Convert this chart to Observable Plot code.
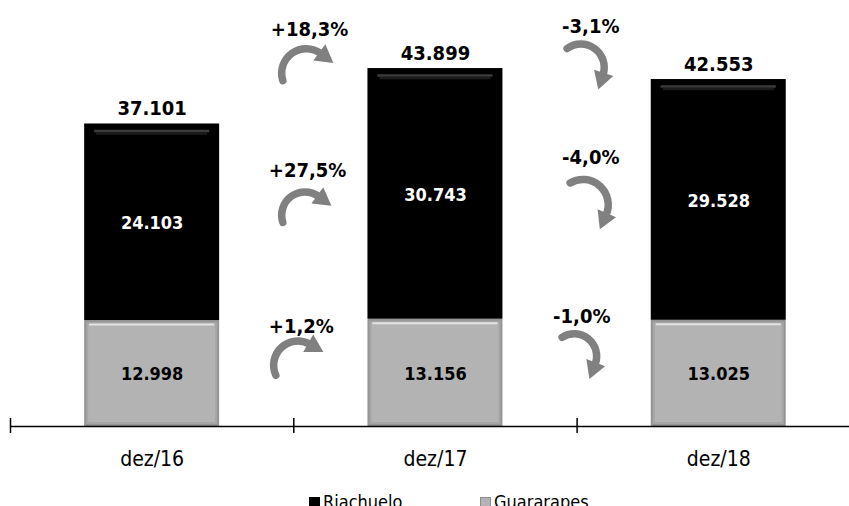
<!DOCTYPE html>
<html><head><meta charset="utf-8">
<script src="https://cdn.jsdelivr.net/npm/d3@7"></script>
<script src="https://cdn.jsdelivr.net/npm/@observablehq/plot@0.6"></script>
<style>
body{margin:0;background:#fff;overflow:hidden;width:849px;height:506px}
#chart{position:relative;width:849px;height:506px}
.legend{position:absolute;top:491px;left:0;width:849px;height:30px;font-family:"DejaVu Sans Condensed","DejaVu Sans",sans-serif;font-size:18px;line-height:21px;color:#000}
.item{position:absolute;top:0;white-space:nowrap}
.sw{display:inline-block;width:11px;height:11px;margin-right:3px;vertical-align:0px;box-sizing:border-box}
</style></head><body><div id="chart"></div>
<script>
// ---- data ----
const categories = ["dez/16", "dez/17", "dez/18"];
const riachuelo = [24103, 30743, 29528];
const guararapes = [12998, 13156, 13025];
const totals = [37101, 43899, 42553];
const changeTotal = ["+18,3%", "-3,1%"];
const changeRiachuelo = ["+27,5%", "-4,0%"];
const changeGuararapes = ["+1,2%", "-1,0%"];
const seriesNames = ["Riachuelo", "Guararapes"];
const seriesColors = ["#000000", "#b3b3b3"];

// ---- layout ----
const W = 849, H = 480, mL = 10, mR = 0, mT = 2, mB = 54;
const step = 283.3;                      // px per category
const xMax = -0.5 + (W - mL - mR) / step;
const yMax = 52000;
const k = (H - mT - mB) / yMax;          // px per unit
const hw = 67.5 / step;                  // half bar width in x units
const BEND = 72;
const fmt = v => d3.format(",")(v).replace(/,/g, ".");
const COND = "DejaVu Sans Condensed, DejaVu Sans, sans-serif";

// stacked segments
const segs = [];
categories.forEach((c, i) => {
  segs.push({i, series: "Guararapes", y1: 0, y2: guararapes[i], value: guararapes[i]});
  segs.push({i, series: "Riachuelo", y1: guararapes[i], y2: guararapes[i] + riachuelo[i], value: riachuelo[i]});
});
const gray = segs.filter(d => d.series === "Guararapes");
const black = segs.filter(d => d.series === "Riachuelo");
const tot = categories.map((c, i) => ({i, total: totals[i]}));
const cats = categories.map((c, i) => ({i, c}));

// annotations (anchored to the next bar's segments, offsets in px)
const anchors = [
  g => totals[g + 1],
  g => guararapes[g + 1] + riachuelo[g + 1] / 2,
  g => guararapes[g + 1]
];
const lay = [ // [labelDx, labelDy, arrow sx, sy, ex, ey] per row, per gap
  [[-23, -39, 12, 51, 50, 24], [-15, -53, 5, 22, 41, 48]],
  [[-25, -23.5, 14, 52, 50, 26], [-15, -42, 8, 25, 44, 57]],
  [[-25, 7, 7, 49, 41, 18], [-24, -4, 9, 21, 42, 48]]
];
const ann = [];
[changeTotal, changeRiachuelo, changeGuararapes].forEach((arr, row) => arr.forEach((label, g) => {
  const L = lay[row][g];
  const x = g + 0.5 + L[0] / step;
  const y = anchors[row](g) - L[1] / k;
  const phi = Math.atan2(L[5] - L[3], L[4] - L[2]) + BEND * Math.PI / 180; // end tangent (screen)
  const hx = L[4] + 4 * Math.cos(phi), hy = L[5] + 4 * Math.sin(phi);
  ann.push({label, x, y,
    x1: x + L[2] / step, y1: y - L[3] / k,
    x2: x + L[4] / step, y2: y - L[5] / k,
    hx: x + hx / step, hy: y - hy / k, rot: phi * 180 / Math.PI + 90});
}));

const bx1 = d => d.i - hw, bx2 = d => d.i + hw;

const chart = Plot.plot({
  width: W, height: H,
  marginLeft: mL, marginRight: mR, marginTop: mT, marginBottom: mB,
  style: {fontFamily: "DejaVu Sans", background: "white", overflow: "visible"},
  x: {type: "linear", domain: [-0.5, xMax], axis: null},
  y: {domain: [0, yMax], axis: null},
  marks: [
    // bars with bevel
    Plot.rectY(segs, {x1: bx1, x2: bx2, y1: "y1", y2: "y2",
      fill: d => d.series === "Riachuelo" ? "#000" : "#959595"}),
    Plot.rectY(gray, {x1: bx1, x2: bx2, y1: "y1", y2: "y2", fill: "#a6a6a6", inset: 2}),
    Plot.rectY(gray, {x1: bx1, x2: bx2, y1: "y1", y2: "y2", fill: seriesColors[1], inset: 4}),
    Plot.ruleY(gray, {x1: bx1, x2: bx2, y: "y2", dy: 4, stroke: "#e4e4e4", strokeWidth: 2, insetLeft: 5, insetRight: 5}),
    Plot.ruleY(black, {x1: bx1, x2: bx2, y: "y2", dy: 7, stroke: "#3c3c3c", strokeWidth: 2.5, insetLeft: 10, insetRight: 10}),
    Plot.ruleY(black, {x1: bx1, x2: bx2, y: "y2", dy: 9.5, stroke: "#1c1c1c", strokeWidth: 2.5, insetLeft: 12, insetRight: 12}),
    // axis
    Plot.ruleY([0], {stroke: "#000", strokeWidth: 1.5}),
    Plot.ruleX([-0.5, 0.5, 1.5], {y1: 0, y2: 0, insetTop: -8, insetBottom: -7, stroke: "#000", strokeWidth: 1.5}),
    Plot.text(cats, {x: "i", y: 0, text: "c", dy: 33, fontSize: 21, fontFamily: COND, fill: "#000"}),
    // value labels
    Plot.text(segs, {x: "i", y: d => (d.y1 + d.y2) / 2, text: d => fmt(d.value), fontFamily: COND,
      fill: d => d.series === "Riachuelo" ? "#fff" : "#000", fontSize: 18, fontWeight: "bold", dy: 1}),
    Plot.text(tot, {x: "i", y: "total", text: d => fmt(d.total), fontSize: 20, fontWeight: "bold", fontFamily: COND,
      lineAnchor: "bottom", dy: -9, fill: "#000"}),
    // change annotations: curved arrows with filled heads
    Plot.arrow(ann, {x1: "x1", y1: "y1", x2: "x2", y2: "y2", bend: BEND, stroke: "#808080",
      strokeWidth: 7.5, headLength: 0}),
    Plot.dot(ann, {x: "hx", y: "hy", rotate: "rot", symbol: "triangle", r: 7.5, fill: "#808080", stroke: "none"}),
    Plot.text(ann, {x: "x", y: "y", text: "label", textAnchor: "start", fontSize: 20, fontWeight: "bold",
      fontFamily: COND, fill: "#000"})
  ]
});

const root = document.getElementById("chart");
root.appendChild(chart);
const leg = document.createElement("div");
leg.className = "legend";
const lefts = [309, 480];
seriesNames.forEach((n, j) => {
  const it = document.createElement("div");
  it.className = "item";
  it.style.left = lefts[j] + "px";
  const sw = document.createElement("span");
  sw.className = "sw";
  sw.style.background = seriesColors[j];
  if (j === 1) sw.style.border = "1px solid #8c8c8c";
  it.appendChild(sw);
  it.appendChild(document.createTextNode(n));
  leg.appendChild(it);
});
root.appendChild(leg);
</script>
</body></html>
